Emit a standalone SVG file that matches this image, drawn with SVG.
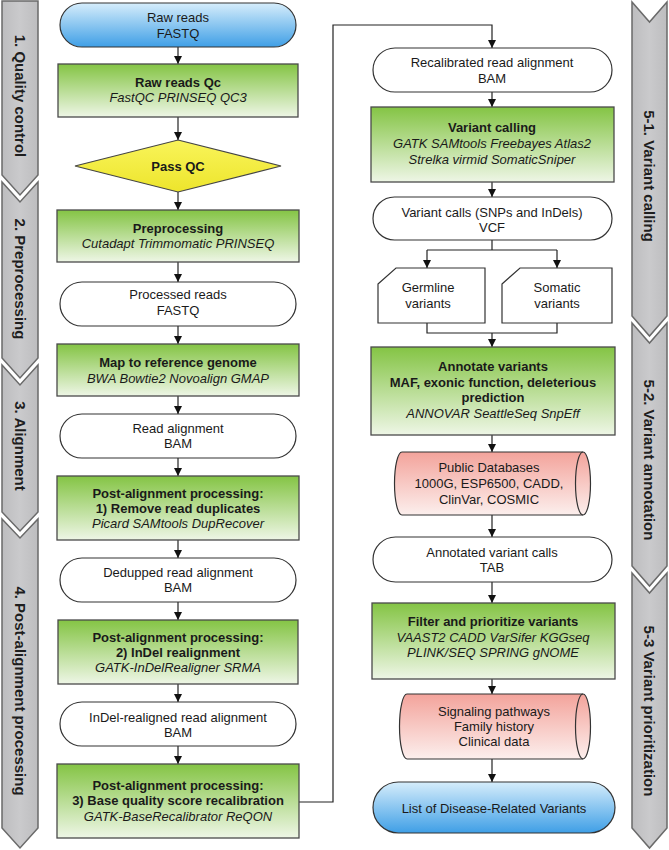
<svg xmlns="http://www.w3.org/2000/svg" width="669" height="850" viewBox="0 0 669 850">
<defs>
<linearGradient id="gGreen" x1="0" y1="0" x2="0" y2="1"><stop offset="0" stop-color="#84c444"/><stop offset="1" stop-color="#eef6e6"/></linearGradient>
<linearGradient id="gBlue" x1="0" y1="0" x2="0" y2="1"><stop offset="0" stop-color="#d6edfb"/><stop offset="1" stop-color="#3f9fe6"/></linearGradient>
<linearGradient id="gPink" x1="0" y1="0" x2="0" y2="1"><stop offset="0" stop-color="#f3a39b"/><stop offset="1" stop-color="#fcefed"/></linearGradient>
<linearGradient id="gYellow" x1="0" y1="0" x2="0" y2="1"><stop offset="0" stop-color="#f9f45a"/><stop offset="1" stop-color="#ede52c"/></linearGradient>
<linearGradient id="gGray" x1="0" y1="0" x2="1" y2="0"><stop offset="0" stop-color="#bdbdbf"/><stop offset="0.5" stop-color="#cacacc"/><stop offset="1" stop-color="#bdbdbf"/></linearGradient>
<marker id="ah" viewBox="0 0 10 10" refX="10" refY="5" markerWidth="8" markerHeight="8" markerUnits="userSpaceOnUse" orient="auto"><path d="M0,0 L10,5 L0,10 z" fill="#111"/></marker>
</defs>
<style>
.t{font-family:"Liberation Sans",Arial,sans-serif;font-size:13px;fill:#1a1a1a;text-anchor:middle}
.b{font-weight:bold}
.i{font-style:italic}
.v{font-family:"Liberation Sans",Arial,sans-serif;font-size:15px;font-weight:bold;fill:#1e1e1e;text-anchor:middle}
.box{fill:url(#gGreen);stroke:#4a4a4a;stroke-width:1.3}
.term{fill:#fff;stroke:#333;stroke-width:1.2}
.blue{fill:url(#gBlue);stroke:#333;stroke-width:1.2}
.cyl{fill:url(#gPink);stroke:#333;stroke-width:1.2}
.chev{fill:url(#gGray);stroke:#6a6a6a;stroke-width:1.5}
.c{fill:none;stroke:#222;stroke-width:1.2}
.ca{fill:none;stroke:#222;stroke-width:1.2;marker-end:url(#ah)}
</style>
<rect width="669" height="850" fill="#fff"/>

<g id="stages">
<g id="stage1"><polygon class="chev" points="2,1 38,1 38,175 20,195 2,175"/><text class="v" transform="translate(20,96) rotate(90)" y="5.4">1. Quality control</text></g>
<g id="stage2"><polygon class="chev" points="2,182 20,202 38,182 38,358 20,378 2,358"/><text class="v" transform="translate(20,279) rotate(90)" y="5.4">2. Preprocessing</text></g>
<g id="stage3"><polygon class="chev" points="2,365 20,385 38,365 38,512 20,531 2,512"/><text class="v" transform="translate(20,446) rotate(90)" y="5.4">3. Alignment</text></g>
<g id="stage4"><polygon class="chev" points="2,519 20,538 38,519 38,828 20,848 2,828"/><text class="v" transform="translate(20,691) rotate(90)" y="5.4">4. Post-alignment processing</text></g>
<g id="stage51"><polygon class="chev" points="632,2 649.5,22 667,2 667,316 649.5,336 632,316"/><text class="v" transform="translate(649.5,176) rotate(90)" y="5.4">5-1. Variant calling</text></g>
<g id="stage52"><polygon class="chev" points="632,323 649.5,343 667,323 667,566 649.5,586 632,566"/><text class="v" transform="translate(649.5,460) rotate(90)" y="5.4">5-2. Variant annotation</text></g>
<g id="stage53"><polygon class="chev" points="632,573 649.5,593 667,573 667,828 649.5,848 632,828"/><text class="v" transform="translate(649.5,711) rotate(90)" y="5.4">5-3 Variant prioritization</text></g>
</g>

<g id="connectors">
<line class="ca" x1="178" y1="47" x2="178" y2="64"/>
<line class="ca" x1="178" y1="117" x2="178" y2="140"/>
<line class="ca" x1="178" y1="192" x2="178" y2="210"/>
<line class="ca" x1="178" y1="262" x2="178" y2="282"/>
<line class="ca" x1="178" y1="326" x2="178" y2="344"/>
<line class="ca" x1="178" y1="396" x2="178" y2="414"/>
<line class="ca" x1="178" y1="458" x2="178" y2="476"/>
<line class="ca" x1="178" y1="540" x2="178" y2="558"/>
<line class="ca" x1="178" y1="602" x2="178" y2="620"/>
<line class="ca" x1="178" y1="684" x2="178" y2="702"/>
<line class="ca" x1="178" y1="746" x2="178" y2="764"/>
<polyline class="ca" points="298,802 333,802 333,25 492,25 492,48"/>
<line class="ca" x1="492" y1="92" x2="492" y2="107"/>
<line class="ca" x1="492" y1="182" x2="492" y2="197"/>
<polyline class="c" points="492,240 492,250"/>
<line class="c" x1="427" y1="250" x2="557" y2="250"/>
<line class="ca" x1="427" y1="250" x2="427" y2="268"/>
<line class="ca" x1="557" y1="250" x2="557" y2="268"/>
<polyline class="c" points="427,323 427,333 557,333 557,323"/>
<line class="ca" x1="492" y1="333" x2="492" y2="347"/>
<line class="ca" x1="492" y1="435" x2="492" y2="452"/>
<line class="ca" x1="492" y1="515" x2="492" y2="537"/>
<line class="ca" x1="492" y1="582" x2="492" y2="603"/>
<line class="ca" x1="492" y1="679" x2="492" y2="694"/>
<line class="ca" x1="492" y1="759" x2="492" y2="782"/>
</g>

<g id="n_raw"><rect class="blue" x="60" y="3" width="236" height="44" rx="22"/><text class="t" x="178" y="21.5">Raw reads</text><text class="t" x="178" y="37.5">FASTQ</text></g>
<g id="n_qc"><rect class="box" x="58" y="64" width="240" height="53"/><text class="t b" x="178" y="86.5">Raw reads Qc</text><text class="t i" x="178" y="101.5">FastQC PRINSEQ QC3</text></g>
<g id="n_pass"><polygon points="178,140 281,166 178,192 75,166" fill="url(#gYellow)" stroke="#444" stroke-width="1.2"/><text class="t b" x="178" y="170.5">Pass QC</text></g>
<g id="n_pre"><rect class="box" x="57" y="210" width="242" height="52"/><text class="t b" x="178" y="232.5">Preprocessing</text><text class="t i" x="178" y="247.5">Cutadapt Trimmomatic PRINSEQ</text></g>
<g id="n_proc"><rect class="term" x="60" y="282" width="236" height="44" rx="22"/><text class="t" x="178" y="298.5">Processed reads</text><text class="t" x="178" y="314.5">FASTQ</text></g>
<g id="n_map"><rect class="box" x="57" y="344" width="242" height="52"/><text class="t b" x="178" y="366.5">Map to reference genome</text><text class="t i" x="178" y="382.5">BWA Bowtie2 Novoalign GMAP</text></g>
<g id="n_ra"><rect class="term" x="60" y="414" width="236" height="44" rx="22"/><text class="t" x="178" y="432.5">Read alignment</text><text class="t" x="178" y="447.5">BAM</text></g>
<g id="n_pa1"><rect class="box" x="57" y="476" width="242" height="64"/><text class="t b" x="178" y="497.5">Post-alignment processing:</text><text class="t b" x="178" y="512.5">1) Remove read duplicates</text><text class="t i" x="178" y="527.5">Picard SAMtools DupRecover</text></g>
<g id="n_dd"><rect class="term" x="60" y="558" width="236" height="44" rx="22"/><text class="t" x="178" y="576.5">Dedupped read alignment</text><text class="t" x="178" y="591.5">BAM</text></g>
<g id="n_pa2"><rect class="box" x="58" y="620" width="240" height="64"/><text class="t b" x="178" y="641.5">Post-alignment processing:</text><text class="t b" x="178" y="656.5">2) InDel realignment</text><text class="t i" x="178" y="672">GATK-InDelRealigner SRMA</text></g>
<g id="n_ir"><rect class="term" x="60" y="702" width="236" height="44" rx="22"/><text class="t" x="178" y="721.5">InDel-realigned read alignment</text><text class="t" x="178" y="736.5">BAM</text></g>
<g id="n_pa3"><rect class="box" x="57" y="764" width="242" height="74"/><text class="t b" x="178" y="789.5">Post-alignment processing:</text><text class="t b" x="178" y="805">3) Base quality score recalibration</text><text class="t i" x="178" y="820.5">GATK-BaseRecalibrator ReQON</text></g>

<g id="n_rec"><rect class="term" x="373" y="48" width="239" height="44" rx="22"/><text class="t" x="492" y="66.5">Recalibrated read alignment</text><text class="t" x="492" y="82.5">BAM</text></g>
<g id="n_vc"><rect class="box" x="371" y="107" width="243" height="75"/><text class="t b" x="492" y="131.5">Variant calling</text><text class="t i" x="492" y="147.5">GATK SAMtools Freebayes Atlas2</text><text class="t i" x="492" y="163.5">Strelka virmid SomaticSniper</text></g>
<g id="n_vcf"><rect class="term" x="373" y="197" width="239" height="43" rx="21.5"/><text class="t" x="492" y="216.5">Variant calls (SNPs and InDels)</text><text class="t" x="492" y="231.5">VCF</text></g>
<g id="n_germ"><path d="M378,284 L396,268 L485,268 L485,323 L378,323 Z" fill="#fff" stroke="#333" stroke-width="1.2"/><text class="t" x="428" y="291.5">Germline</text><text class="t" x="428" y="307.5">variants</text></g>
<g id="n_som"><path d="M502,284 L520,268 L612,268 L612,323 L502,323 Z" fill="#fff" stroke="#333" stroke-width="1.2"/><text class="t" x="557" y="291.5">Somatic</text><text class="t" x="557" y="307.5">variants</text></g>
<g id="n_ann"><rect class="box" x="371" y="347" width="244" height="88"/><text class="t b" x="493" y="370.5">Annotate variants</text><text class="t b" x="493" y="386.5">MAF, exonic function, deleterious</text><text class="t b" x="493" y="401.5">prediction</text><text class="t i" x="493" y="417.5">ANNOVAR SeattleSeq SnpEff</text></g>
<g id="n_db"><path class="cyl" d="M402,452 L583,452 A7.5,31.5 0 0 1 583,515 L402,515 A7.5,31.5 0 0 1 402,452 Z"/><path d="M583,452 A7.5,31.5 0 0 0 583,515" fill="none" stroke="#333" stroke-width="1.2"/><text class="t" x="489" y="471.5">Public Databases</text><text class="t" x="489" y="488">1000G, ESP6500, CADD,</text><text class="t" x="489" y="503.5">ClinVar, COSMIC</text></g>
<g id="n_atab"><rect class="term" x="373" y="537" width="239" height="45" rx="22.5"/><text class="t" x="492" y="556.5">Annotated variant calls</text><text class="t" x="492" y="571.5">TAB</text></g>
<g id="n_filt"><rect class="box" x="372" y="603" width="243" height="76"/><text class="t b" x="493" y="625.5">Filter and prioritize variants</text><text class="t i" x="493" y="641.5">VAAST2 CADD VarSifer KGGseq</text><text class="t i" x="493" y="656.5">PLINK/SEQ SPRING gNOME</text></g>
<g id="n_sig"><path class="cyl" d="M407,694 L583,694 A7.5,32.5 0 0 1 583,759 L407,759 A7.5,32.5 0 0 1 407,694 Z"/><path d="M583,694 A7.5,32.5 0 0 0 583,759" fill="none" stroke="#333" stroke-width="1.2"/><text class="t" x="494" y="715.5">Signaling pathways</text><text class="t" x="494" y="730.5">Family history</text><text class="t" x="494" y="745.5">Clinical data</text></g>
<g id="n_list"><rect class="blue" x="373" y="782" width="242" height="51" rx="25.5"/><text class="t" x="494" y="812.5">List of Disease-Related Variants</text></g>
</svg>
